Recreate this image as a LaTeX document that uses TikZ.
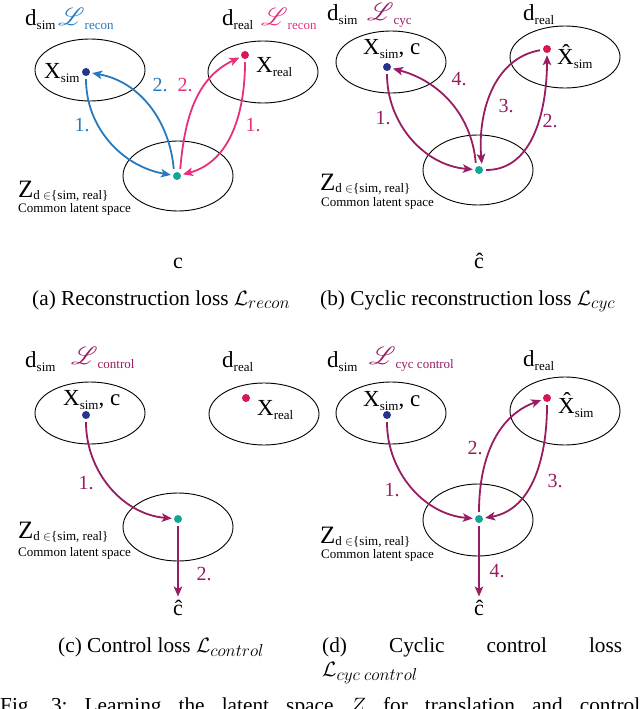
\documentclass[tikz,border=0pt]{standalone}
\usepackage{fontspec}
\setmainfont{Liberation Serif}
\usepackage{mathrsfs}
\usetikzlibrary{shapes.geometric,arrows.meta}
\definecolor{cblue}{RGB}{38,122,192}
\definecolor{cpink}{RGB}{232,46,124}
\definecolor{cpurp}{RGB}{152,28,98}
\definecolor{cdotblue}{RGB}{38,52,140}
\definecolor{cdotred}{RGB}{218,22,82}
\definecolor{cteal}{RGB}{18,166,152}
\newcommand{\lsub}[1]{\raisebox{-4pt}{\fontsize{13}{13}\selectfont #1}}
\newcommand{\zsub}[1]{\raisebox{-2.5pt}{\fontsize{13}{13}\selectfont #1}}
\newcommand{\scrL}{{\fontsize{27}{27}\selectfont$\mathscr{L}$}}
\newcommand{\msub}[1]{\mbox{\fontsize{17}{17}\selectfont$#1$}}
\tikzset{
  ell/.style={draw, ellipse, line width=0.9pt, minimum width=110pt, minimum height=62pt, inner sep=0pt},
  dotnode/.style={circle, inner sep=0pt, minimum size=8pt, fill=#1},
  arr/.style={line width=1.8pt, draw=#1, -{Stealth[length=10pt,width=8.5pt,inset=2.5pt]}, shorten >=2pt, shorten <=3pt},
  num/.style={font=\fontsize{20}{20}\selectfont, text=#1, inner sep=0pt},
  lbl/.style={font=\fontsize{23}{23}\selectfont, anchor=base west, inner sep=0pt},
  zlbl/.style={font=\fontsize{25}{25}\selectfont, anchor=base west, inner sep=0pt},
  cls/.style={font=\fontsize{13}{13}\selectfont, anchor=base west, inner sep=0pt},
  outl/.style={font=\fontsize{22}{22}\selectfont, anchor=base, inner sep=1pt},
  captext/.style={font=\fontsize{21.3}{21.3}\selectfont, anchor=base west, inner sep=0pt}
}
\begin{document}
\begin{tikzpicture}[x=1pt,y=1pt]
\useasboundingbox (0,0) rectangle (640,-709);
% ---------------- (a)
\node[ell] (eSimA) at (90,-70) {};
\node[ell] (eRealA) at (263,-72) {};
\node[ell, minimum height=70pt] (eZA) at (178,-176) {};
\node[dotnode=cdotblue] (xsA) at (86,-72) {};
\node[dotnode=cdotred] (xrA) at (245,-55) {};
\node[dotnode=cteal] (zA) at (177,-176) {};
\draw[arr=cblue] (xsA) to[out=-90,in=170] (zA);
\draw[arr=cblue] ([xshift=-3pt]zA.north) to[out=95,in=-10] (xsA);
\draw[arr=cpink] ([xshift=3pt]zA.north) to[out=85,in=205] (xrA);
\draw[arr=cpink] (xrA) to[out=-90,in=15] (zA);
\node[num=cblue] (n1A) at (82,-125) {1.};
\node[num=cblue] (n2A) at (160,-85) {2.};
\node[num=cpink] (n2Ap) at (185,-85) {2.};
\node[num=cpink] (n1Ap) at (253,-125) {1.};
\node[lbl] (dsA) at (25,-26) {d\lsub{sim}};
\node[lbl, text=cblue] (LsA) at (58,-26) {\scrL\lsub{recon}};
\node[lbl] (drA) at (222,-26) {d\lsub{real}};
\node[lbl, text=cpink] (LrA) at (261,-26) {\scrL\lsub{recon}};
\node[lbl] (XsA) at (44,-78) {X\lsub{sim}};
\node[lbl] (XrA) at (256,-73) {X\lsub{real}};
\node[zlbl] (ZA) at (18,-197) {Z\zsub{d $\in$\{sim, real\}}};
\node[cls] (clA) at (18,-212) {Common latent space};
\node[outl] (cA) at (178,-268) {c};
% ---------------- (b)
\node[ell] (eSimB) at (391,-62) {};
\node[ell] (eRealB) at (565,-57) {};
\node[ell, minimum height=70pt] (eZB) at (478,-170) {};
\node[dotnode=cdotblue] (xsB) at (387,-67) {};
\node[dotnode=cdotred] (xhB) at (547,-49) {};
\node[dotnode=cteal] (zB) at (479,-170) {};
\draw[arr=cpurp] (xsB) to[out=-90,in=175] (zB);
\draw[arr=cpurp] ([xshift=-3pt]zB.north) to[out=95,in=-15] (xsB);
\draw[arr=cpurp] (xhB) to[out=190,in=95] ([xshift=3pt]zB.north);
\draw[arr=cpurp] (zB) to[out=0,in=-90] (xhB);
\node[num=cpurp] (n1B) at (383,-118) {1.};
\node[num=cpurp] (n4B) at (459,-79) {4.};
\node[num=cpurp] (n3B) at (506,-106) {3.};
\node[num=cpurp] (n2B) at (550,-121) {2.};
\node[lbl] (dsB) at (327,-21) {d\lsub{sim}};
\node[lbl, text=cpurp] (LB) at (367,-21) {\scrL\lsub{cyc}};
\node[lbl] (drB) at (523,-21) {d\lsub{real}};
\node[lbl] (XsB) at (363,-55) {X\lsub{sim}, c};
\node[lbl] (XhB) at (557,-65) {\^{X}\lsub{sim}};
\node[zlbl] (ZB) at (320,-190) {Z\zsub{d $\in$\{sim, real\}}};
\node[cls] (clB) at (321,-206) {Common latent space};
\node[outl] (chB) at (479,-268) {\^{c}};
% ---------------- (c)
\node[ell] (eSimC) at (90,-413) {};
\node[ell] (eRealC) at (264,-414) {};
\node[ell, minimum height=68pt] (eZC) at (178,-527) {};
\node[dotnode=cdotblue] (xsC) at (86,-415) {};
\node[dotnode=cdotred] (xrC) at (246,-398) {};
\node[dotnode=cteal] (zC) at (178,-519) {};
\node[outl] (chC) at (178,-615) {\^{c}};
\draw[arr=cpurp] (xsC) to[out=-90,in=175] (zC);
\draw[arr=cpurp] (zC) -- (chC.north);
\node[num=cpurp] (n1C) at (86,-483) {1.};
\node[num=cpurp] (n2C) at (204,-574) {2.};
\node[lbl] (dsC) at (25,-367) {d\lsub{sim}};
\node[lbl, text=cpurp] (LC) at (71,-364) {\scrL\lsub{control}};
\node[lbl] (drC) at (222,-367) {d\lsub{real}};
\node[lbl] (XsC) at (63,-405) {X\lsub{sim}, c};
\node[lbl] (XrC) at (257,-415) {X\lsub{real}};
\node[zlbl] (ZC) at (18,-538) {Z\zsub{d $\in$\{sim, real\}}};
\node[cls] (clC) at (18,-556) {Common latent space};
% ---------------- (d)
\node[ell] (eSimD) at (391,-413) {};
\node[ell, minimum height=68pt] (eRealD) at (565,-411) {};
\node[ell, minimum height=72pt] (eZD) at (478,-520) {};
\node[dotnode=cdotblue] (xsD) at (387,-415) {};
\node[dotnode=cdotred] (xhD) at (547,-398) {};
\node[dotnode=cteal] (zD) at (479,-519) {};
\node[outl] (chD) at (479,-615) {\^{c}};
\draw[arr=cpurp] (xsD) to[out=-90,in=175] (zD);
\draw[arr=cpurp] (zD) to[out=90,in=200] (xhD);
\draw[arr=cpurp] (xhD) to[out=-90,in=10] (zD);
\draw[arr=cpurp] (zD) -- (chD.north);
\node[num=cpurp] (n1D) at (392,-490) {1.};
\node[num=cpurp] (n2D) at (475,-448) {2.};
\node[num=cpurp] (n3D) at (555,-481) {3.};
\node[num=cpurp] (n4D) at (497,-571) {4.};
\node[lbl] (dsD) at (327,-367) {d\lsub{sim}};
\node[lbl, text=cpurp] (LD) at (369,-364) {\scrL\lsub{cyc control}};
\node[lbl] (drD) at (523,-366) {d\lsub{real}};
\node[lbl] (XsD) at (363,-406) {X\lsub{sim}, c};
\node[lbl] (XhD) at (558,-413) {\^{X}\lsub{sim}};
\node[zlbl] (ZD) at (320,-543) {Z\zsub{d $\in$\{sim, real\}}};
\node[cls] (clD) at (321,-558) {Common latent space};
% ---------------- captions
\node[captext] (capA) at (32,-305) {(a) Reconstruction loss $\mathcal{L}_{\msub{recon}}$};
\node[captext] (capB) at (320,-305) {(b) Cyclic reconstruction loss $\mathcal{L}_{\msub{cyc}}$};
\node[captext] (capC) at (58,-652) {(c) Control loss $\mathcal{L}_{\msub{control}}$};
\node[captext] (capD) at (322,-652) {\hbox to 300pt{(d)\hfill Cyclic\hfill control\hfill loss}};
\node[captext] (capD2) at (322,-676) {$\mathcal{L}_{\msub{cyc\ control}}$};
\node[captext] (fig) at (0,-712) {\hbox to 640pt{Fig.\hfill 3:\hfill Learning\hfill the\hfill latent\hfill space\hfill $Z$\hfill for\hfill translation\hfill and\hfill control}};
\end{tikzpicture}
\end{document}
